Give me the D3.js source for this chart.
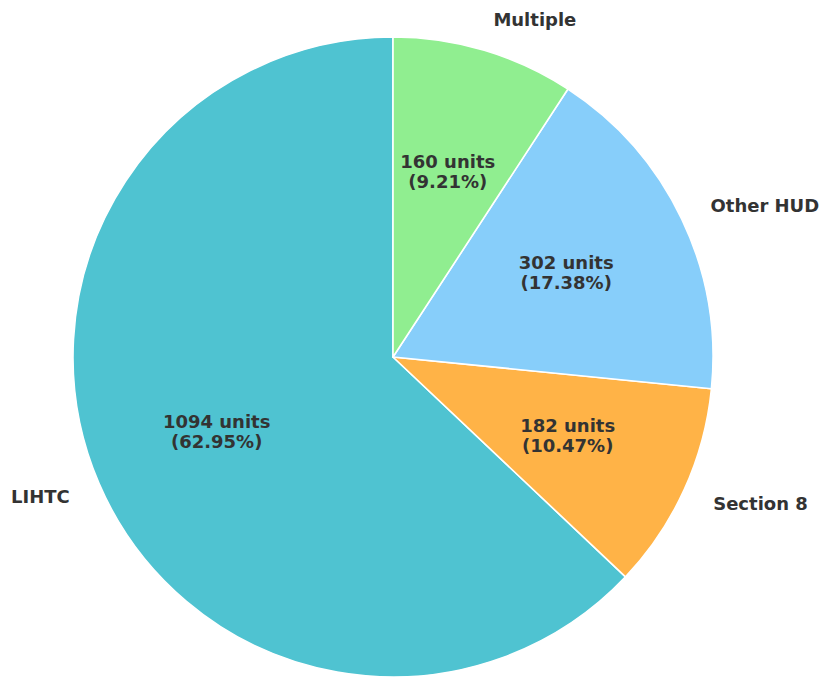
<!DOCTYPE html>
<html>
<head>
<meta charset="utf-8">
<script src="https://cdn.jsdelivr.net/npm/d3@7"></script>
<style>
  html, body { margin: 0; padding: 0; background: #ffffff; }
  svg { display: block; }
  text { font-family: "DejaVu Sans", sans-serif; font-weight: bold; fill: #333333; }
</style>
</head>
<body>
<svg id="chart" width="822" height="677"></svg>
<script>
// Affordable housing units by program
const categories = ["LIHTC", "Section 8", "Other HUD", "Multiple"];
const units = [1094, 182, 302, 160];
const colors = ["#4FC3D1", "#FFB347", "#87CEFA", "#90EE90"];

const width = 822, height = 677;
const cx = 393, cy = 357, radius = 320;

const svg = d3.select("#chart");
const g = svg.append("g").attr("transform", `translate(${cx},${cy})`);

const total = d3.sum(units);
const data = categories.map((c, i) => ({ name: c, value: units[i], color: colors[i] }));

// Slices run counter-clockwise starting from 12 o'clock
const pie = d3.pie()
  .value(d => d.value)
  .sort(null)
  .startAngle(0)
  .endAngle(-2 * Math.PI);

const arcs = pie(data);
const arc = d3.arc().innerRadius(0).outerRadius(radius);

g.selectAll("path.slice")
  .data(arcs)
  .join("path")
  .attr("class", "slice")
  .attr("d", arc)
  .attr("fill", d => d.data.color)
  .attr("stroke", "#ffffff")
  .attr("stroke-width", 1.6)
  .attr("stroke-linejoin", "round");

// d3 angle (0 = up, clockwise) -> x, y at a given distance
function pos(a, r) {
  return [r * Math.sin(a), -r * Math.cos(a)];
}

const fontSize = 18;

// Category names outside the pie
g.selectAll("text.cat")
  .data(arcs)
  .join("text")
  .attr("class", "cat")
  .attr("font-size", fontSize)
  .attr("dominant-baseline", "central")
  .attr("text-anchor", d => {
    const [x] = pos((d.startAngle + d.endAngle) / 2, 1);
    return x >= 0 ? "start" : "end";
  })
  .attr("x", d => pos((d.startAngle + d.endAngle) / 2, radius * 1.1)[0])
  .attr("y", d => pos((d.startAngle + d.endAngle) / 2, radius * 1.1)[1])
  .text(d => d.data.name);

// Unit counts and shares inside the slices
const inner = g.selectAll("text.val")
  .data(arcs)
  .join("text")
  .attr("class", "val")
  .attr("font-size", fontSize)
  .attr("text-anchor", "middle")
  .attr("transform", d => {
    const [x, y] = pos((d.startAngle + d.endAngle) / 2, radius * 0.6);
    return `translate(${x},${y})`;
  });

inner.append("tspan")
  .attr("x", 0)
  .attr("y", -5)
  .text(d => `${d.data.value} units`);

inner.append("tspan")
  .attr("x", 0)
  .attr("y", 15)
  .text(d => `(${(d.data.value / total * 100).toFixed(2)}%)`);
</script>
</body>
</html>
